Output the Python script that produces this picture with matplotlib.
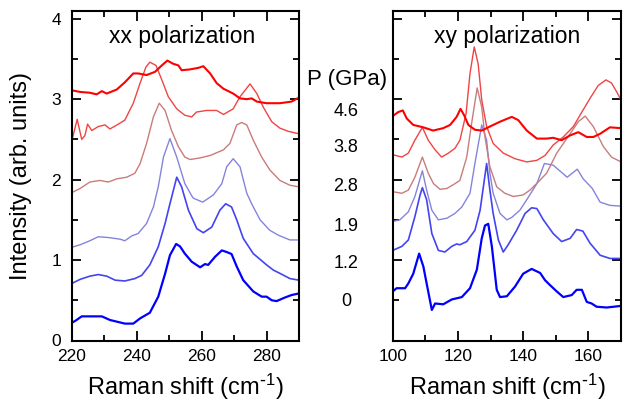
import matplotlib
matplotlib.use("Agg")
import matplotlib.pyplot as plt
from matplotlib.ticker import MultipleLocator

plt.rcParams['font.family'] = ['Liberation Sans', 'DejaVu Sans']
plt.rcParams['mathtext.default'] = 'regular'

pressures = ['4.6', '3.8', '2.8', '1.9', '1.2', '0']
colors = ['#ff0000', '#f04444', '#c87c7c', '#8484dc', '#4444f0', '#0000ff']
widths = [1.5, 1.0, 1.0, 1.0, 1.2, 1.6]

# ---------------- xx polarization (left panel) ----------------
xx_46_x = [220, 222.5, 225.5, 227.6, 229.2, 230.7, 233.8, 236.3, 238.9, 240.4, 243, 245.6, 247.7, 249.4,
           251.2, 252.8, 253.8, 256.4, 259, 260.5, 262.6, 264.6, 266.7, 269.7, 271.8, 273.9, 275.4, 277,
           280, 284.1, 287.7, 290]
xx_46_y = [3.11, 3.09, 3.08, 3.06, 3.10, 3.07, 3.12, 3.21, 3.32, 3.32, 3.30, 3.34, 3.42, 3.48,
           3.44, 3.42, 3.36, 3.37, 3.39, 3.41, 3.32, 3.20, 3.13, 3.07, 3.01, 3.00, 3.01, 2.97,
           2.95, 2.95, 2.97, 3.02]

xx_38_x = [220, 221.6, 223, 224, 224.8, 226.1, 228.1, 230.2, 231.7, 234.3, 236.3, 238.9, 241, 242.8,
           244, 245.9, 247.7, 249.7, 252.3, 254.8, 256.9, 258.4, 261.5, 264.6, 266.7, 269.7, 271.8,
           274.9, 277, 279, 281.6, 284.1, 286.7, 290]
xx_38_y = [2.49, 2.75, 2.50, 2.55, 2.69, 2.61, 2.66, 2.68, 2.63, 2.69, 2.74, 2.95, 3.20, 3.40,
           3.46, 3.42, 3.24, 3.03, 2.88, 2.80, 2.78, 2.84, 2.86, 2.86, 2.81, 2.88, 3.03,
           3.19, 3.07, 2.90, 2.72, 2.64, 2.60, 2.57]

xx_28_x = [220, 222.5, 225.5, 228.6, 231.2, 233.8, 236.9, 239.4, 241, 243, 245.1, 246.9, 248.7, 250.7,
           252.8, 254.8, 256.4, 259.5, 262.6, 266.7, 268.7, 270.8, 272.3, 273.9, 275.9, 278.5, 281,
           284.1, 287.2, 290]
xx_28_y = [1.84, 1.89, 1.97, 1.99, 1.97, 2.01, 2.03, 2.08, 2.20, 2.45, 2.78, 2.95, 2.86, 2.61,
           2.41, 2.28, 2.25, 2.27, 2.30, 2.37, 2.45, 2.68, 2.71, 2.68, 2.49, 2.28, 2.12,
           1.99, 1.93, 1.91]

xx_19_x = [220, 222.5, 225.5, 228.1, 231.2, 234.8, 236.3, 238.4, 240.4, 243, 245.1, 246.6, 248.2, 250.2,
           252.3, 254.8, 256.9, 257.4, 260.3, 263.6, 266.2, 267.7, 269.7, 271.8, 273.9, 275.4, 278,
           281, 283.6, 287.2, 290]
xx_19_y = [1.16, 1.19, 1.24, 1.29, 1.28, 1.26, 1.24, 1.30, 1.33, 1.455, 1.66, 1.91, 2.28, 2.51,
           2.28, 1.95, 1.80, 1.77, 1.72, 1.81, 1.95, 2.16, 2.26, 2.16, 1.83, 1.70, 1.50,
           1.37, 1.31, 1.25, 1.25]

xx_12_x = [220, 222.5, 225.5, 228.1, 230.7, 233.3, 236.3, 239.4, 241.5, 244, 246.6, 248.7, 250.2, 252.3,
           253.8, 255.9, 258.5, 260.5, 263.1, 265.6, 267.4, 269.2, 270.8, 272.8, 275.9, 280, 282.1,
           284.1, 287.2, 290]
xx_12_y = [0.71, 0.76, 0.80, 0.82, 0.80, 0.75, 0.74, 0.77, 0.81, 0.94, 1.165, 1.455, 1.70, 2.03,
           1.91, 1.62, 1.39, 1.34, 1.41, 1.62, 1.70, 1.66, 1.50, 1.27, 1.08, 0.94, 0.875,
           0.835, 0.77, 0.75]

xx_0_x = [220, 221.4, 223, 229.2, 231.7, 236.3, 238.9, 241, 244, 246.6, 248.7, 250.2, 252.1, 253.3,
          254.8, 256.9, 259.5, 261, 262, 264.1, 266.2, 267.7, 269.2, 270.8, 272.8, 275.9, 278.5,
          280, 281.6, 283.1, 285.7, 287.7, 290]
xx_0_y = [0.22, 0.255, 0.30, 0.30, 0.255, 0.21, 0.21, 0.275, 0.345, 0.545, 0.83, 1.06, 1.20, 1.17,
          1.08, 0.98, 0.91, 0.95, 0.94, 1.04, 1.12, 1.10, 1.075, 0.92, 0.75, 0.61, 0.545,
          0.545, 0.50, 0.49, 0.535, 0.565, 0.585]

# ---------------- xy polarization (right panel) ----------------
xy_46_x = [100, 101.7, 103.1, 104.3, 106.3, 109.4, 112.4, 115.5, 117.6, 119.6, 120.8, 121.9, 123.2, 125.2,
           127.3, 129.8, 132.9, 136.5, 138.5, 141.1, 144.2, 147.2, 149.2, 151.8, 154.4, 156.9, 159.5,
           161.5, 163.6, 166.6, 170]
xy_46_y = [2.79, 2.84, 2.86, 2.76, 2.68, 2.65, 2.61, 2.64, 2.68, 2.78, 2.88, 2.80, 2.68, 2.62,
           2.61, 2.66, 2.72, 2.78, 2.74, 2.61, 2.51, 2.51, 2.52, 2.49, 2.55, 2.59, 2.53,
           2.53, 2.57, 2.65, 2.64]

xy_38_x = [100, 102.8, 104.8, 106.8, 109.1, 110.9, 113, 115, 117.1, 119.1, 120.6, 122.5, 123.7, 125,
           126.2, 127.3, 128.8, 130.8, 133.9, 137.5, 141.1, 144.2, 146.7, 149.2, 152.3, 155.4, 158,
           160.5, 163, 165.4, 167.1, 168.7, 170]
xy_38_y = [2.31, 2.28, 2.33, 2.49, 2.65, 2.49, 2.37, 2.28, 2.33, 2.39, 2.49, 2.82, 3.32, 3.65,
           3.44, 2.99, 2.66, 2.45, 2.33, 2.26, 2.22, 2.24, 2.30, 2.43, 2.53, 2.66, 2.84,
           3.01, 3.17, 3.24, 3.20, 3.09, 2.99]

xy_28_x = [100, 102.8, 104.8, 106.8, 109.1, 110.9, 112.5, 114.5, 116.6, 119.1, 120.6, 122.7, 124.2, 125.9,
           127.3, 128.3, 129.8, 131.9, 134.4, 137, 140, 142.1, 144.6, 147.2, 150.3, 154.4, 156.9,
           159, 161.5, 164.6, 167.1, 170]
xy_28_y = [1.85, 1.83, 1.87, 2.03, 2.28, 2.08, 1.95, 1.88, 1.89, 1.95, 1.99, 2.28, 2.70, 3.14,
           2.90, 2.53, 2.16, 1.91, 1.83, 1.79, 1.81, 1.87, 1.97, 2.08, 2.33, 2.57, 2.72,
           2.79, 2.66, 2.41, 2.28, 2.22]

xy_19_x = [100, 102.2, 104.8, 106.8, 109.1, 110.4, 112, 114, 116.6, 119.1, 121.2, 123.7, 125.2, 127.3,
           128.8, 129.8, 130.8, 132.9, 135, 136.5, 139, 141.1, 144.2, 146.5, 149.2, 153.5, 156.6,
           158.4, 161.2, 163.6, 166.6, 170]
xy_19_y = [1.48, 1.50, 1.60, 1.79, 2.11, 1.87, 1.62, 1.50, 1.52, 1.58, 1.66, 1.83, 2.20, 2.68,
           2.49, 2.08, 1.83, 1.58, 1.50, 1.53, 1.62, 1.75, 1.95, 2.20, 2.18, 2.03, 2.13,
           2.01, 1.89, 1.72, 1.68, 1.67]

xy_12_x = [100, 102.8, 104.8, 106.8, 108.4, 109.1, 110.4, 112, 114, 116, 118.1, 119.6, 120.6, 122.7,
           125.2, 126.8, 128.8, 129.8, 130.8, 132.4, 133.9, 135.4, 138, 140.6, 142.6, 144.2, 146.2,
           149.2, 151.8, 154.4, 156.4, 158.3, 160.5, 163.6, 166.6, 170]
xy_12_y = [1.12, 1.17, 1.25, 1.54, 1.81, 1.90, 1.75, 1.33, 1.12, 1.10, 1.17, 1.20, 1.19, 1.23,
           1.37, 1.62, 2.20, 1.87, 1.58, 1.25, 1.10, 1.19, 1.37, 1.58, 1.65, 1.64, 1.50,
           1.33, 1.23, 1.27, 1.38, 1.36, 1.21, 1.06, 1.02, 1.02]

xy_0_x = [100, 101.2, 103.8, 104.8, 106.3, 108.1, 109.4, 110.4, 112, 113, 115.5, 118.1, 121.2, 123.7,
          125.8, 127.3, 128.3, 129.3, 130.4, 131.9, 132.9, 135, 137.5, 140, 142.6, 145.2, 146.7,
          148.2, 150.3, 152.3, 154.9, 156.4, 158, 159.5, 161, 162.5, 165.6, 170]
xy_0_y = [0.61, 0.65, 0.65, 0.71, 0.83, 1.08, 0.92, 0.71, 0.38, 0.46, 0.45, 0.51, 0.54, 0.65,
          0.88, 1.27, 1.43, 1.45, 1.17, 0.63, 0.54, 0.55, 0.67, 0.83, 0.89, 0.84, 0.75,
          0.69, 0.61, 0.54, 0.565, 0.63, 0.63, 0.48, 0.46, 0.42, 0.41, 0.43]

xx_series = [(xx_46_x, xx_46_y), (xx_38_x, xx_38_y), (xx_28_x, xx_28_y),
             (xx_19_x, xx_19_y), (xx_12_x, xx_12_y), (xx_0_x, xx_0_y)]
xy_series = [(xy_46_x, xy_46_y), (xy_38_x, xy_38_y), (xy_28_x, xy_28_y),
             (xy_19_x, xy_19_y), (xy_12_x, xy_12_y), (xy_0_x, xy_0_y)]

W, H = 631, 407
fig = plt.figure(figsize=(W / 100, H / 100), dpi=100)
bottom = 1 - 340.5 / H
height = (340.5 - 10.7) / H
ax1 = fig.add_axes([72 / W, bottom, 227 / W, height])
ax2 = fig.add_axes([392.7 / W, bottom, 228.3 / W, height])

for ax, series, xlim in [(ax1, xx_series, (220, 290)), (ax2, xy_series, (100, 170))]:
    for (xs, ys), c, lw in zip(series[::-1], colors[::-1], widths[::-1]):
        ax.plot(xs, ys, color=c, lw=lw)
    ax.set_xlim(*xlim)
    ax.set_ylim(0, 4.1)
    ax.xaxis.set_major_locator(MultipleLocator(20))
    ax.xaxis.set_minor_locator(MultipleLocator(10))
    ax.yaxis.set_major_locator(MultipleLocator(1))
    ax.yaxis.set_minor_locator(MultipleLocator(0.5))
    ax.tick_params(which='both', direction='in', top=True, right=True, width=1.3)
    ax.tick_params(axis='x', which='major', length=7, labelsize=12.5, pad=6)
    ax.tick_params(axis='x', which='minor', length=4.5)
    ax.tick_params(axis='y', which='major', length=6.5, labelsize=12.5, pad=8)
    ax.tick_params(axis='y', which='minor', length=4)
    for s in ax.spines.values():
        s.set_linewidth(1.5)
    ax.set_xlabel(r'Raman shift (cm$^{\text{-}1}$)', fontsize=17, labelpad=6)

ax2.tick_params(axis='y', labelleft=False)
ax1.set_ylabel('Intensity (arb. units)', fontsize=17, labelpad=14)

fig.text(182.5 / W, 1 - 37 / H, 'xx polarization', fontsize=16.5, ha='center', va='center')
fig.text(507.5 / W, 1 - 37 / H, 'xy polarization', fontsize=16.5, ha='center', va='center')

fig.text(347.5 / W, 1 - 80 / H, 'P (GPa)', fontsize=16, ha='center', va='center')
label_y = [111.7, 147.3, 186.7, 226.7, 263.3, 301.7]
for p, yy in zip(pressures, label_y):
    fig.text(346 / W, 1 - yy / H, p, fontsize=13, ha='center', va='center')

fig.savefig('out.png', dpi=100)
